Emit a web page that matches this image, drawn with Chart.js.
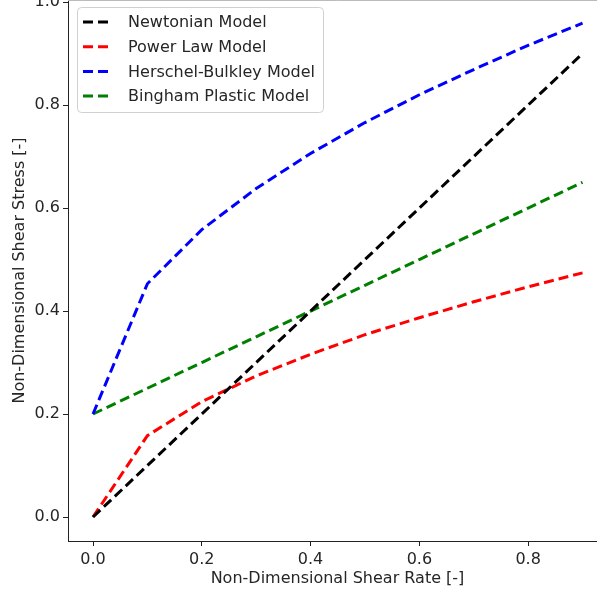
<!DOCTYPE html>
<html>
<head>
<meta charset="utf-8">
<script src="https://cdn.jsdelivr.net/npm/chart.js@4/dist/chart.umd.min.js"></script>
<style>
    body { margin: 0; overflow: hidden; background: #fff; }
    #wrap { position: absolute; left: 0; top: 0; }
</style>
</head>
<body>
<div id="wrap"><canvas id="myChart" width="607" height="594"></canvas></div>
<script>
// shear rate values (x)
const shearRate = [0.0, 0.1, 0.2, 0.3, 0.4, 0.5, 0.6, 0.7, 0.8, 0.9];
// shear stress for each model
const newtonian = [0.0, 0.1, 0.2, 0.3, 0.4, 0.5, 0.6, 0.7, 0.8, 0.9];
const powerLaw = [0.0, 0.158, 0.224, 0.274, 0.316, 0.354, 0.387, 0.418, 0.447, 0.474];
const herschelBulkley = [0.2, 0.453, 0.558, 0.638, 0.706, 0.766, 0.82, 0.869, 0.916, 0.959];
const bingham = [0.2, 0.25, 0.3, 0.35, 0.4, 0.45, 0.5, 0.55, 0.6, 0.65];

const seriesNames = ["Newtonian Model", "Power Law Model", "Herschel-Bulkley Model", "Bingham Plastic Model"];
const seriesColors = ["#000000", "#ff0000", "#0000ff", "#008000"];
const xTicks = [0.0, 0.2, 0.4, 0.6, 0.8];
const yTicks = [0.0, 0.2, 0.4, 0.6, 0.8, 1.0];

const FONT = "'DejaVu Sans', sans-serif";
const TXT = "#262626";

function toPoints(ys) {
    return shearRate.map((x, i) => ({ x: x, y: ys[i] }));
}

// matplotlib style legend + top spine
const legendBox = {
    id: "legendBox",
    afterDatasetsDraw(chart) {
        const ctx = chart.ctx;
        const area = chart.chartArea;
        ctx.save();
        // top spine
        ctx.strokeStyle = "#bbbbbb";
        ctx.lineWidth = 1;
        ctx.beginPath();
        ctx.moveTo(area.left, 0.5);
        ctx.lineTo(area.right, 0.5);
        ctx.stroke();

        // legend frame
        const x0 = 77.5, y0 = 7.5, w = 246, h = 105, r = 4;
        ctx.beginPath();
        ctx.moveTo(x0 + r, y0);
        ctx.arcTo(x0 + w, y0, x0 + w, y0 + h, r);
        ctx.arcTo(x0 + w, y0 + h, x0, y0 + h, r);
        ctx.arcTo(x0, y0 + h, x0, y0, r);
        ctx.arcTo(x0, y0, x0 + w, y0, r);
        ctx.closePath();
        ctx.fillStyle = "rgba(255,255,255,0.8)";
        ctx.fill();
        ctx.strokeStyle = "#d0d0d0";
        ctx.stroke();

        ctx.font = "16px " + FONT;
        ctx.textBaseline = "middle";
        chart.data.datasets.forEach((ds, i) => {
            const yy = 22 + i * 24.7;
            ctx.strokeStyle = ds.borderColor;
            ctx.lineWidth = 3;
            ctx.setLineDash([10, 5]);
            ctx.beginPath();
            ctx.moveTo(83, yy);
            ctx.lineTo(113, yy);
            ctx.stroke();
            ctx.setLineDash([]);
            ctx.fillStyle = TXT;
            ctx.fillText(ds.label, 128, yy + 1);
        });
        ctx.restore();
    }
};

const ctx = document.querySelector("#myChart").getContext("2d");
const myChart = new Chart(ctx, {
    type: "line",
    data: {
        datasets: [
            { label: seriesNames[0], data: toPoints(newtonian) },
            { label: seriesNames[1], data: toPoints(powerLaw) },
            { label: seriesNames[2], data: toPoints(herschelBulkley) },
            { label: seriesNames[3], data: toPoints(bingham) }
        ].map((d, i) => Object.assign(d, {
            borderColor: seriesColors[i],
            backgroundColor: seriesColors[i],
            borderWidth: 3,
            borderDash: [10, 5],
            pointRadius: 0,
            tension: 0,
            fill: false
        }))
    },
    options: {
        responsive: false,
        animation: false,
        layout: { padding: 0 },
        plugins: {
            legend: { display: false },
            tooltip: { enabled: false }
        },
        scales: {
            x: {
                type: "linear",
                min: -0.046,
                max: 0.945,
                afterBuildTicks: (scale) => { scale.ticks = xTicks.map(v => ({ value: v })); },
                afterFit: (scale) => {
                    scale.height = 53;
                    scale.paddingLeft = 0;
                    scale.paddingRight = 0;
                },
                grid: { drawOnChartArea: false, tickLength: 5, tickColor: "#222", tickWidth: 1 },
                border: { display: true, color: "#222", width: 1 },
                ticks: {
                    color: TXT,
                    padding: 4,
                    maxRotation: 0,
                    font: { family: FONT, size: 16 },
                    callback: (v) => v.toFixed(1)
                },
                title: {
                    display: true,
                    text: "Non-Dimensional Shear Rate [-]",
                    color: TXT,
                    font: { family: FONT, size: 16 },
                    padding: { top: 0, bottom: 6 }
                }
            },
            y: {
                type: "linear",
                min: -0.0466,
                max: 1.004,
                afterBuildTicks: (scale) => { scale.ticks = yTicks.map(v => ({ value: v })); },
                afterFit: (scale) => {
                    scale.width = 68;
                    scale.paddingTop = 0;
                    scale.paddingBottom = 0;
                },
                grid: { drawOnChartArea: false, tickLength: 5, tickColor: "#222", tickWidth: 1 },
                border: { display: true, color: "#222", width: 1 },
                ticks: {
                    color: TXT,
                    padding: 3,
                    font: { family: FONT, size: 16 },
                    callback: (v) => v.toFixed(1)
                },
                title: {
                    display: true,
                    text: "Non-Dimensional Shear Stress [-]",
                    color: TXT,
                    font: { family: FONT, size: 16 },
                    padding: { top: 10, bottom: 0 }
                }
            }
        }
    },
    plugins: [legendBox]
});
</script>
</body>
</html>
